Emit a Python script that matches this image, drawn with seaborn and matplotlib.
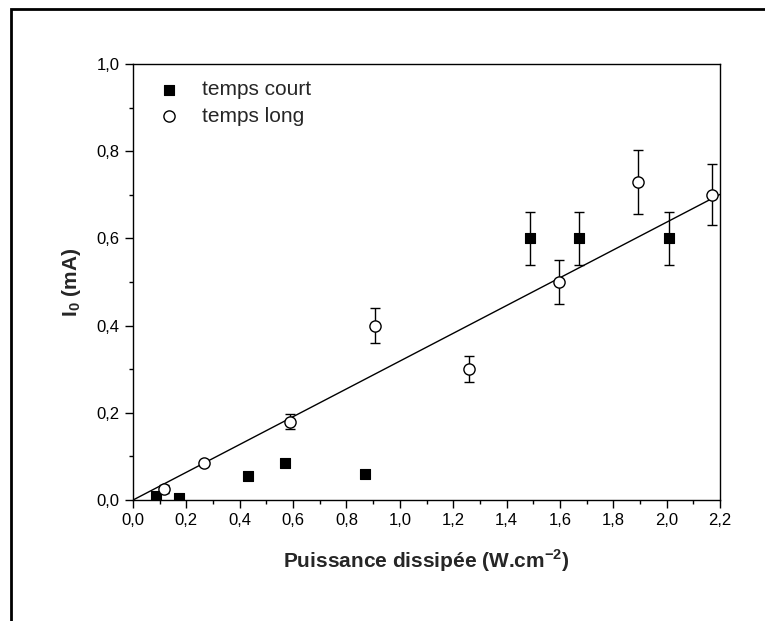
import numpy as np
import pandas as pd
import matplotlib
matplotlib.use("Agg")
import matplotlib.pyplot as plt
import matplotlib.ticker as mticker
from matplotlib.patches import Rectangle
import seaborn as sns

# data
court_x = [0.085, 0.172, 0.431, 0.570, 0.870, 1.488, 1.672, 2.009]
court_y = [0.010, 0.005, 0.055, 0.085, 0.060, 0.600, 0.600, 0.600]
court_err = [0, 0, 0, 0, 0, 0.06, 0.06, 0.06]

long_x = [0.116, 0.266, 0.588, 0.907, 1.259, 1.597, 1.893, 2.170]
long_y = [0.025, 0.085, 0.180, 0.400, 0.300, 0.500, 0.730, 0.700]
long_err = [0.010, 0.005, 0.018, 0.040, 0.030, 0.050, 0.073, 0.070]

fit_x = [0.0, 2.2]
fit_y = [0.0, 0.701]

sns.set_style("ticks")
plt.rcParams['font.family'] = ['Liberation Sans', 'DejaVu Sans']
plt.rcParams['mathtext.fontset'] = 'custom'
plt.rcParams['mathtext.rm'] = 'Liberation Sans'
plt.rcParams['mathtext.bf'] = 'Liberation Sans:bold'

fig = plt.figure(figsize=(7.65, 6.21), dpi=100)
ax = fig.add_axes([0.1739, 0.1948, 0.7673, 0.7021])

# fit line
sns.lineplot(x=fit_x, y=fit_y, ax=ax, color='black', lw=1.0, zorder=2)

# error bars
ax.errorbar(court_x, court_y, yerr=court_err, fmt='none', ecolor='black',
            elinewidth=1.0, capsize=3.5, capthick=1.0, zorder=3)
ax.errorbar(long_x, long_y, yerr=long_err, fmt='none', ecolor='black',
            elinewidth=1.0, capsize=3.5, capthick=1.0, zorder=3)

df_court = pd.DataFrame({'x': court_x, 'y': court_y})
df_long = pd.DataFrame({'x': long_x, 'y': long_y})
sns.scatterplot(data=df_court, x='x', y='y', ax=ax, marker='s', s=60,
                color='black', edgecolor='black', linewidth=0.8,
                label='temps court', zorder=4)
sns.scatterplot(data=df_long, x='x', y='y', ax=ax, marker='o', s=65,
                facecolor='white', edgecolor='black', linewidth=1.0,
                label='temps long', zorder=4)

ax.set_xlim(0, 2.2)
ax.set_ylim(0, 1.0)
ax.xaxis.set_major_locator(mticker.MultipleLocator(0.2))
ax.xaxis.set_minor_locator(mticker.MultipleLocator(0.1))
ax.yaxis.set_major_locator(mticker.MultipleLocator(0.2))
ax.yaxis.set_minor_locator(mticker.MultipleLocator(0.1))
fmt = mticker.FuncFormatter(lambda v, p: f"{v:.1f}".replace('.', ','))
ax.xaxis.set_major_formatter(fmt)
ax.yaxis.set_major_formatter(fmt)

ax.tick_params(which='major', direction='out', length=6, width=1.0,
               labelsize=12, color='black', labelcolor='black')
ax.tick_params(which='minor', direction='out', length=3, width=1.0, color='black')
for s in ax.spines.values():
    s.set_visible(True)
    s.set_linewidth(1.0)
    s.set_color('black')

ax.set_xlabel(r'Puissance dissipée (W.cm$^{\mathbf{-2}}$)', fontsize=15,
              fontweight='bold', labelpad=14)
ax.set_ylabel(r'I$_{\mathbf{0}}$ (mA)', fontsize=15, fontweight='bold',
              labelpad=10)

ax.legend(loc='upper left', bbox_to_anchor=(0.0, 1.01), frameon=False,
          fontsize=15, handletextpad=0.8, labelspacing=0.35,
          borderaxespad=0.6, handlelength=1.5)

# outer frame of the original figure
fig.add_artist(Rectangle((0.0144, -0.2), 1.2, 1.2 - 0.0145, transform=fig.transFigure,
                         fill=False, edgecolor='black', linewidth=2.0))

fig.savefig('out.png', dpi=100)
